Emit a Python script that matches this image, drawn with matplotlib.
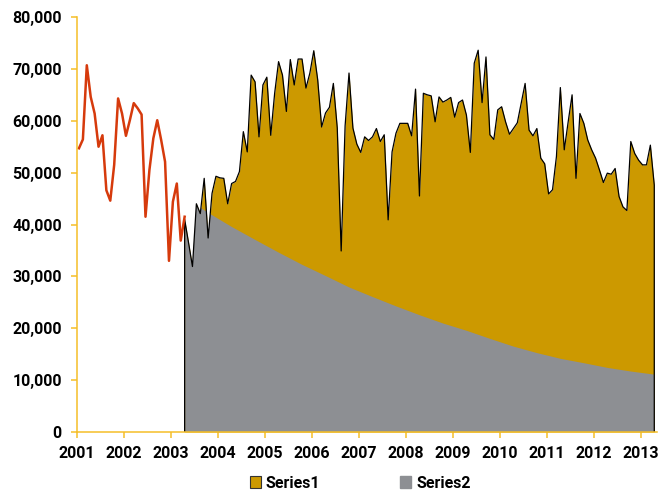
import numpy as np
import matplotlib
matplotlib.use('Agg')
from matplotlib import pyplot as plt
from matplotlib.patches import Patch
from matplotlib.ticker import FuncFormatter

# monthly data, first value is Jan 2001
red_start = 0
red_vals = [54700, 56400, 70700, 64600, 61400, 55000, 57200, 46600, 44600, 51500, 64300, 61400,
            57100, 60100, 63400, 62400, 61200, 41500, 50500, 56600, 60100, 56300, 52100, 33000,
            44400, 47900, 36900, 41500]

# total (top of Series1), starts Apr 2003
total_start = 27
total_vals = [41000, 36500, 31900, 44000, 42100, 48900, 37400, 46000, 49300,
              49000, 48900, 44000, 47900, 48300, 50200, 57900, 54000, 68800, 67500, 56900, 66900,
              68400, 57200, 65300, 71400, 68800, 61800, 71800, 66900, 71900, 71900, 66300, 69200,
              73500, 67900, 58800, 61500, 62600, 67200, 58600, 34900, 59000, 69200, 58600, 55500,
              53900, 56900, 56200, 56900, 58500, 56000, 57300, 40900, 54000, 57600, 59500, 59500,
              59500, 57100, 66100, 45500, 65300, 65000, 64800, 59800, 64600, 63600, 64000, 64500,
              60700, 63500, 64000, 61100, 53900, 71100, 73600, 63500, 72300, 57300, 56400, 62100,
              62700, 59800, 57400, 58500, 59600, 63400, 67200, 58200, 57100, 58500, 52800, 51700,
              45900, 46700, 53100, 66400, 54400, 59800, 65000, 48900, 61400, 59500, 56300, 54400,
              52800, 50500, 48100, 49900, 49700, 50800, 45400, 43400, 42700, 56000, 53700, 52400,
              51500, 51500, 55300, 47600]

# Series2 read every six months, Apr 2003 .. Apr 2013
grey_months = [27, 33, 39, 45, 51, 57, 63, 69, 75, 81, 87, 93, 99, 105, 111, 117, 123, 129, 135, 141, 147]
grey_vals = [45300, 42300, 39600, 37100, 34650, 32300, 30150, 27950, 26100, 24300, 22600,
             21000, 19600, 18040, 16550, 15300, 14200, 13350, 12450, 11750, 11150]

years = list(range(2001, 2014))


def month_x(i):
    return 2001 + (np.asarray(i) + 0.5) / 12.0


gold = '#CC9900'
grey = '#8D8F93'
red = '#D63A0C'
axis_col = '#F5BE28'

plt.rcParams['font.family'] = ['Roboto', 'DejaVu Sans']
plt.rcParams['font.weight'] = 'bold'

fig = plt.figure(figsize=(6.72, 4.93), dpi=100)
ax = fig.add_axes([0.1146, 0.1237, 0.8631, 0.8418])

x_tot = month_x(np.arange(total_start, total_start + len(total_vals)))
x_red = month_x(np.arange(red_start, red_start + len(red_vals)))
x_grey = month_x(grey_months)

gold_area = ax.fill_between(x_tot, 0, total_vals, color=gold, lw=0, zorder=2)
grey_area = ax.fill_between(x_grey, 0, grey_vals, color=grey, lw=0, zorder=3)
grey_area.set_clip_path(gold_area.get_paths()[0], ax.transData)

ax.plot(np.r_[x_tot[0], x_tot, x_tot[-1]], np.r_[0, total_vals, 0],
        color='black', lw=0.9, zorder=4)
ax.plot(x_red, red_vals, color=red, lw=1.8, zorder=5)

ax.set_xlim(2001, 2013.35)
ax.set_ylim(0, 80000)
ax.set_xticks(years)
ax.set_xticklabels([str(y) for y in years])
ax.set_yticks(range(0, 80001, 10000))
ax.yaxis.set_major_formatter(FuncFormatter(lambda v, p: f'{int(v):,}'))

for s in ['top', 'right']:
    ax.spines[s].set_visible(False)
for s in ['left', 'bottom']:
    ax.spines[s].set_color(axis_col)
    ax.spines[s].set_linewidth(1.1)
    ax.spines[s].set_zorder(6)
ax.tick_params(axis='both', colors=axis_col, length=4, width=1.1, labelcolor='black',
               labelsize=11.5)
ax.tick_params(axis='y', pad=7)
ax.tick_params(axis='x', pad=6)

handles = [Patch(facecolor=gold, edgecolor='#333333', lw=0.8), Patch(facecolor=grey, edgecolor=grey)]
fig.legend(handles, ['Series1', 'Series2'], loc='center', bbox_to_anchor=(0.536, 0.02),
           ncol=2, frameon=False, fontsize=11.5, handlelength=0.7, handleheight=0.7,
           handletextpad=0.3, columnspacing=5.0)

fig.savefig('out.png', dpi=100)
